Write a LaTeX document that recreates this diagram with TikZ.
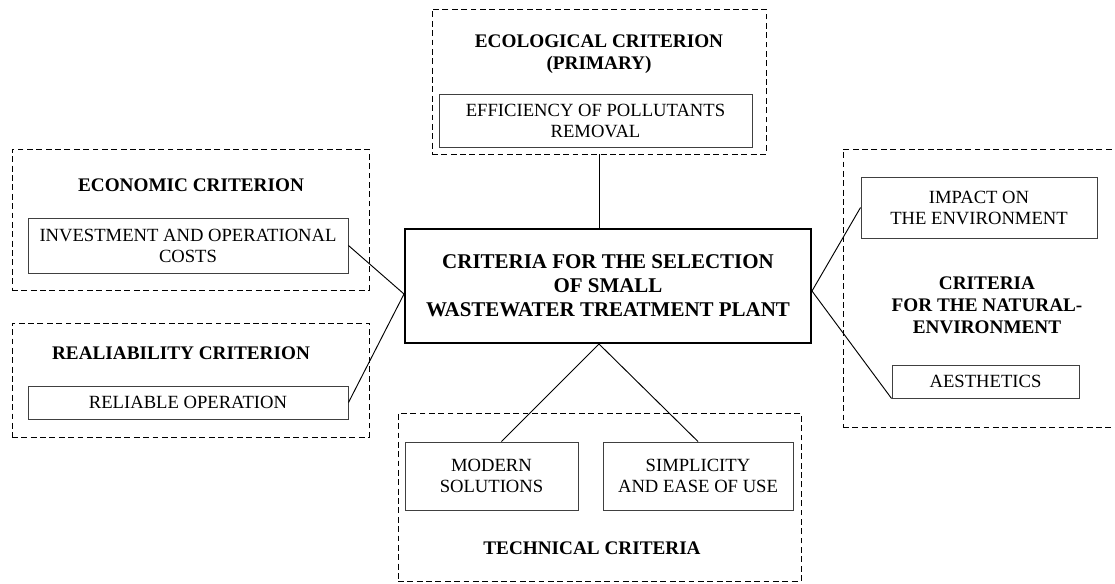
\documentclass[tikz,border=0pt]{standalone}
\usepackage{fontspec}
\setmainfont{Liberation Serif}
\usetikzlibrary{calc}
\newlength\pxl
\setlength\pxl{0.03cm}

\begin{document}
\begin{tikzpicture}[x=0.03cm, y=-0.03cm,
  dashbox/.style={draw, dash pattern=on 5pt off 3pt, line width=0.8pt, inner sep=0pt},
  critbox/.style={draw=black!75, line width=0.8pt, align=center, inner sep=0pt, font=\fontsize{15.9}{17.9}\selectfont},
  headtext/.style={align=center, inner sep=0pt, font=\fontsize{16.4}{18.8}\selectfont\bfseries},
  mainbox/.style={draw, line width=1.7pt, align=center, inner sep=0pt, font=\fontsize{17.9}{20.5}\selectfont\bfseries},
  link/.style={line width=0.8pt}]
\useasboundingbox (0,0) rectangle (1115,583);

\node[mainbox, minimum width=406\pxl, minimum height=114\pxl] (main) at (608,286) {CRITERIA FOR THE SELECTION\\OF SMALL\\WASTEWATER TREATMENT PLANT};

\node[dashbox, minimum width=334\pxl, minimum height=145\pxl] (ecoframe) at (599,81.5) {};
\node[headtext] (ecohead) at (599,54) {ECOLOGICAL CRITERION\\(PRIMARY)};
\node[critbox, minimum width=313\pxl, minimum height=53\pxl] (efficiency) at (595.5,120.5) {EFFICIENCY OF POLLUTANTS\\REMOVAL};

\node[dashbox, minimum width=357\pxl, minimum height=141\pxl] (econframe) at (190.5,219.5) {};
\node[headtext] (econhead) at (191,185) {ECONOMIC CRITERION};
\node[critbox, minimum width=320\pxl, minimum height=55\pxl] (costs) at (188,245.5) {INVESTMENT AND OPERATIONAL\\COSTS};

\node[dashbox, minimum width=357\pxl, minimum height=114\pxl] (relframe) at (190.5,380) {};
\node[headtext] (relhead) at (181,353) {REALIABILITY CRITERION};
\node[critbox, minimum width=320\pxl, minimum height=33\pxl] (reliable) at (188,402.5) {RELIABLE OPERATION};

\node[dashbox, minimum width=314\pxl, minimum height=278\pxl] (natframe) at (1000,288) {};
\node[critbox, minimum width=236\pxl, minimum height=61\pxl] (impact) at (979,207.5) {IMPACT ON\\THE ENVIRONMENT};
\node[headtext] (nathead) at (987,305.5) {CRITERIA\\FOR THE NATURAL-\\ENVIRONMENT};
\node[critbox, minimum width=187\pxl, minimum height=33\pxl] (aesthetics) at (985.5,381.5) {AESTHETICS};

\node[dashbox, minimum width=403\pxl, minimum height=168\pxl] (techframe) at (599.5,497) {};
\node[critbox, minimum width=173\pxl, minimum height=68\pxl] (modern) at (491.5,476) {MODERN\\SOLUTIONS};
\node[critbox, minimum width=190\pxl, minimum height=68\pxl] (simplicity) at (698,476) {SIMPLICITY\\AND EASE OF USE};
\node[headtext] (techhead) at (592,548) {TECHNICAL CRITERIA};

\coordinate (jl) at ($(main.west)+(0,8)$);
\coordinate (jr) at ($(main.east)+(0,5)$);

\draw[link] (ecoframe.south) -- (ecoframe.south |- main.north);
\draw[link] (costs.east) -- (jl);
\draw[link] (reliable.east) -- (jl);
\draw[link] (impact.west) -- (jr);
\draw[link] (aesthetics.south west) -- (jr);
\draw[link] (main.south -| ecoframe.south) -- ($(modern.north)+(10,0)$);
\draw[link] (main.south -| ecoframe.south) -- (simplicity.north);
\end{tikzpicture}
\end{document}
